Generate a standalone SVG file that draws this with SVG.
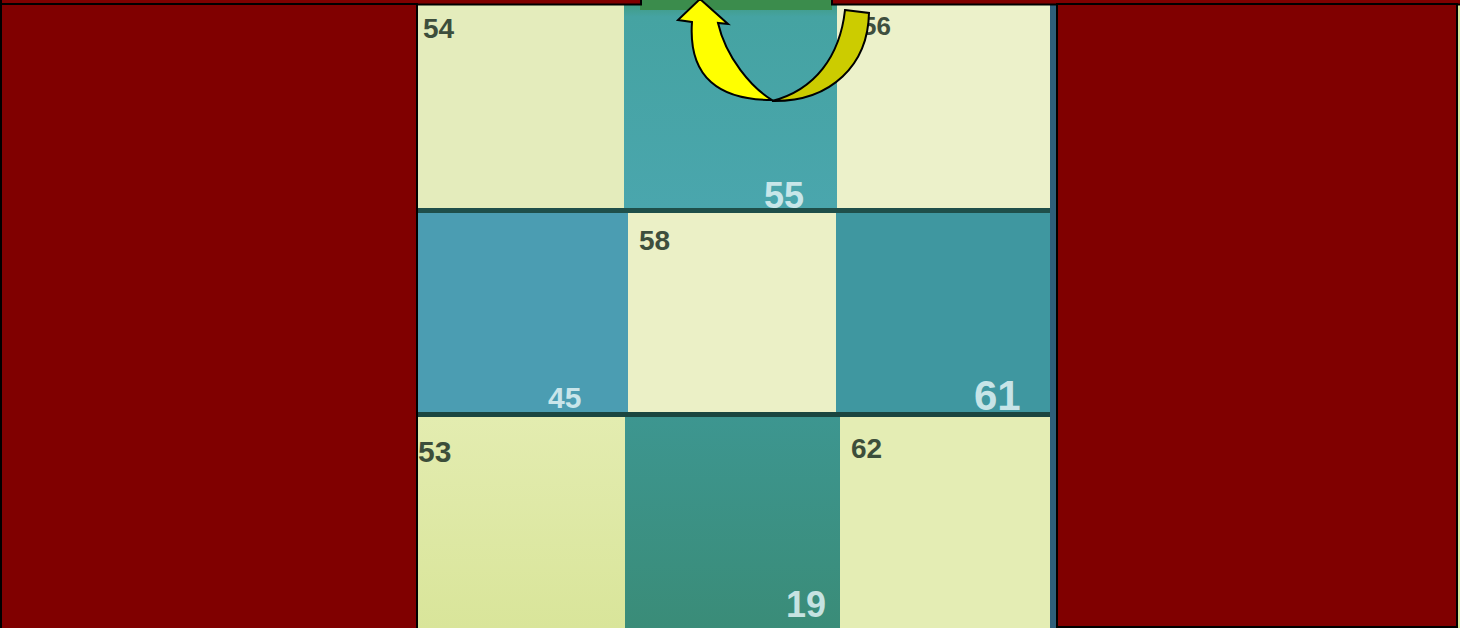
<svg xmlns="http://www.w3.org/2000/svg" width="1460" height="628" viewBox="0 0 1460 628">
<style>
.red{fill:#800000;stroke:#000;stroke-width:2}
.dk{font-family:"Liberation Sans",Arial,sans-serif;font-weight:bold;fill:#1f3326;opacity:0.85}
.lt{font-family:"Liberation Sans",Arial,sans-serif;font-weight:bold;fill:#dff2f4;opacity:0.85}
.arw{stroke:#000;stroke-width:2;stroke-linejoin:miter}
</style>
<defs>
<linearGradient id="tealTop" x1="0" y1="0" x2="0" y2="1">
<stop offset="0" stop-color="#3f9a7a"/><stop offset="0.08" stop-color="#45a3a2"/><stop offset="1" stop-color="#4aa6ad"/>
</linearGradient>
<linearGradient id="tealBot" x1="0" y1="0" x2="0" y2="1">
<stop offset="0" stop-color="#3d9690"/><stop offset="1" stop-color="#3a8c78"/>
</linearGradient>
<linearGradient id="paleBL" x1="0" y1="0" x2="0" y2="1">
<stop offset="0" stop-color="#e3ecb0"/><stop offset="1" stop-color="#d9e59a"/>
</linearGradient>
</defs>
<g id="board">
<rect x="418" y="0" width="1042" height="628" fill="#d8e8a0"/>
<rect x="418" y="0" width="206" height="209" fill="#e4ecbc"/>
<rect x="624" y="0" width="213" height="209" fill="url(#tealTop)"/>
<rect x="640" y="0" width="192" height="10" fill="#3b8c4c"/>
<rect x="837" y="0" width="219" height="209" fill="#ecf1ca"/>
<rect x="418" y="213" width="210" height="200" fill="#4b9db2"/>
<rect x="628" y="213" width="208" height="200" fill="#ebf0c6"/>
<rect x="836" y="213" width="220" height="200" fill="#3f97a0"/>
<rect x="418" y="417" width="207" height="211" fill="url(#paleBL)"/>
<rect x="625" y="417" width="215" height="211" fill="url(#tealBot)"/>
<rect x="840" y="417" width="216" height="211" fill="#e4edb4"/>
<rect x="418" y="208" width="638" height="5" fill="#1f4f4a"/>
<rect x="418" y="412" width="638" height="5" fill="#1b4640"/>
<rect x="1050" y="0" width="6" height="628" fill="#2f5f7a"/>
</g>
<g id="labels">
<text class="dk" x="423" y="38" font-size="28">54</text>
<text class="dk" x="862" y="35" font-size="26">56</text>
<text class="lt" x="764" y="208" font-size="36">55</text>
<text class="dk" x="639" y="250" font-size="28">58</text>
<text class="lt" x="548" y="408" font-size="30" opacity="0.6">45</text>
<text class="lt" x="974" y="410" font-size="42">61</text>
<text class="dk" x="418" y="462" font-size="30">53</text>
<text class="dk" x="851" y="458" font-size="28">62</text>
<text class="lt" x="786" y="617" font-size="36">19</text>
</g>
<g id="frame">
<rect class="red" x="1" y="-10" width="640" height="14.5"/>
<rect class="red" x="832" y="-10" width="640" height="14.5"/>
<rect class="red" x="1" y="4" width="416" height="630"/>
<rect class="red" x="1057" y="4" width="400" height="623"/>
</g>
<g id="connectors">
<path class="arw" fill="#cccc00" d="M845,10 L869,13 C868,64 832,102 772,101 C815,90 840,56 845,10 Z"/>
<path class="arw" fill="#ffff00" d="M692,22 L678,20 L700,-1 L728,24 L718,23 C726,58 752,88 772,100 C720,100 688,78 692,22 Z"/>
</g>
</svg>
